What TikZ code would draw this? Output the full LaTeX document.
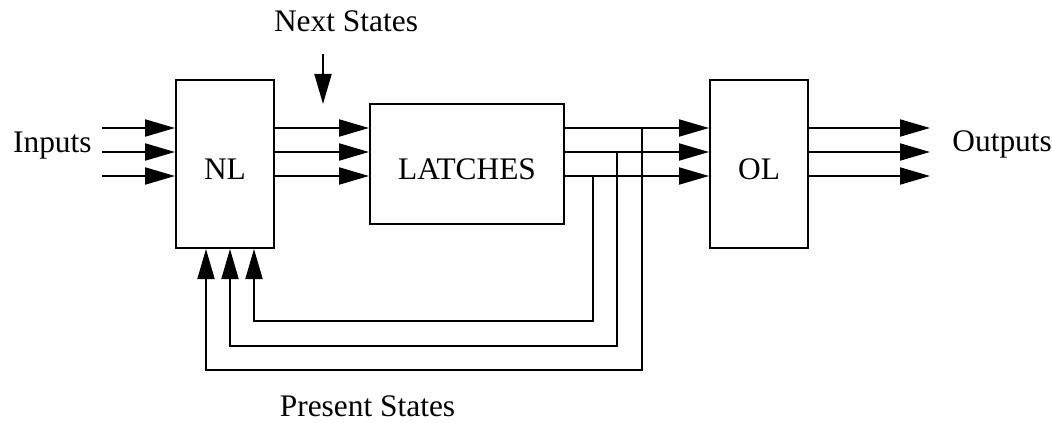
\documentclass[tikz,border=0pt]{standalone}
\usepackage{fontspec}
\setmainfont{Liberation Serif}
\usepackage{tikz}
\usetikzlibrary{
    arrows.meta,
    positioning
}
\tikzset{
    sbox/.style={
        rectangle, draw=black, line width=1.0pt, fill=white,
        minimum width=49pt, minimum height=84pt, inner sep=0pt,
        text height=15pt, text depth=0pt,
        font=\fontsize{15.7}{18}\selectfont
    },
    slbl/.style={inner sep=0pt, font=\fontsize{15.7}{18}\selectfont},
    sarr/.style={-{Triangle[length=15pt, width=8.5pt]}, line width=1.0pt, black},
}

\begin{document}
\begin{tikzpicture}[node distance=47pt]
    \useasboundingbox (0,0) rectangle (526pt,-211pt);

    \node [sbox] (n1) at (112.5pt,-82pt) {NL};
    \node [sbox, right=of n1, minimum width=97pt, minimum height=60pt]
        (n2) {LATCHES};
    \node [sbox, right=72pt of n2] (n3) {OL};

    % inputs
    \coordinate (i1) at ([xshift=-36.5pt, yshift=18pt]n1.west);
    \coordinate (i2) at ([xshift=-36.5pt, yshift=6pt]n1.west);
    \coordinate (i3) at ([xshift=-36.5pt, yshift=-6pt]n1.west);
    \draw [sarr] (i1) -- ([yshift=18pt]n1.west);
    \draw [sarr] (i2) -- ([yshift=6pt]n1.west);
    \draw [sarr] (i3) -- ([yshift=-6pt]n1.west);

    \draw [sarr] ([yshift=18pt]n1.east) -- ([yshift=18pt]n2.west);
    \draw [sarr] ([yshift=6pt]n1.east) -- ([yshift=6pt]n2.west);
    \draw [sarr] ([yshift=-6pt]n1.east) -- ([yshift=-6pt]n2.west);

    \draw [sarr] ([yshift=18pt]n2.east) -- ([yshift=18pt]n3.west);
    \draw [sarr] ([yshift=6pt]n2.east) -- ([yshift=6pt]n3.west);
    \draw [sarr] ([yshift=-6pt]n2.east) -- ([yshift=-6pt]n3.west);

    % outputs
    \coordinate (o1) at ([xshift=60.5pt, yshift=18pt]n3.east);
    \coordinate (o2) at ([xshift=60.5pt, yshift=6pt]n3.east);
    \coordinate (o3) at ([xshift=60.5pt, yshift=-6pt]n3.east);
    \draw [sarr] ([yshift=18pt]n3.east) -- (o1);
    \draw [sarr] ([yshift=6pt]n3.east) -- (o2);
    \draw [sarr] ([yshift=-6pt]n3.east) -- (o3);

    % feedback
    \coordinate (f1) at ([xshift=38.5pt, yshift=18pt]n2.east);
    \coordinate (f2) at ([xshift=26pt, yshift=6pt]n2.east);
    \coordinate (f3) at ([xshift=14pt, yshift=-6pt]n2.east);
    \coordinate (b1) at ([xshift=-9.5pt, yshift=-60.5pt]n1.south);
    \coordinate (b2) at ([xshift=2.5pt, yshift=-48.5pt]n1.south);
    \coordinate (b3) at ([xshift=14.5pt, yshift=-36pt]n1.south);
    \draw [sarr] (f1) |- (b1) -- (n1.south -| b1);
    \draw [sarr] (f2) |- (b2) -- (n1.south -| b2);
    \draw [sarr] (f3) |- (b3) -- (n1.south -| b3);

    \coordinate (nsA) at ([xshift=24pt, yshift=12.5pt]n1.north east);
    \coordinate (nsB) at ([xshift=24pt, yshift=-12.5pt]n1.north east);
    \draw [sarr] (nsA) -- (nsB);

    \node [slbl, anchor=base east] (t1) at ([xshift=-5pt, yshift=-0.5pt]i2) {Inputs};
    \node [slbl, anchor=base west] (t4) at ([xshift=11pt]o2) {Outputs};
    \node [slbl, anchor=base] (t2) at ([xshift=11.5pt, yshift=11pt]nsA) {Next States};
    \node [slbl, anchor=base] (t3) at ([xshift=71.25pt, yshift=-83.5pt]n1.south) {Present States};

\end{tikzpicture}
\end{document}
